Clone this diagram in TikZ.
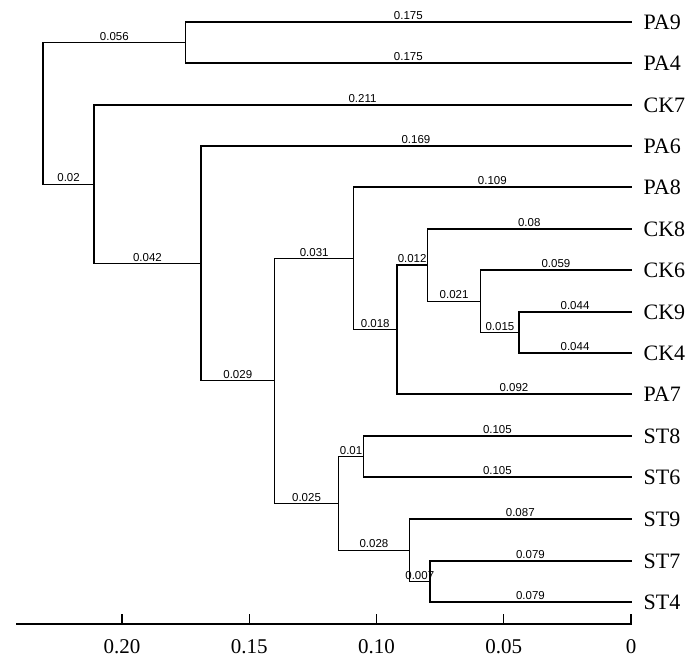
\documentclass[tikz,border=0pt]{standalone}
\usepackage{fontspec}
\setmainfont{Liberation Serif}
\newfontfamily\blenfont{Liberation Sans}
\usetikzlibrary{calc}

\begin{document}
\begin{tikzpicture}[x=1pt, y=-1pt, line width=1.3pt, line cap=rect,
    blen/.style={anchor=south, inner sep=1.5pt, font=\blenfont\fontsize{11.5}{12}\selectfont},
    leaf/.style={anchor=west, inner sep=0pt, font=\fontsize{22}{24}\selectfont},
    tick/.style={anchor=north, inner sep=0pt, font=\fontsize{21}{23}\selectfont}]
    % dendrogram, distance scale along the bottom
    \def\u{2545}
    \def\xo{631}
    \useasboundingbox (0,0) rectangle (700,664);

    % leaves
    \coordinate (PA9) at (\xo, 22);
    \coordinate (PA4) at (\xo, 63);
    \coordinate (CK7) at (\xo, 105);
    \coordinate (PA6) at (\xo, 146);
    \coordinate (PA8) at (\xo, 187);
    \coordinate (CK8) at (\xo, 229);
    \coordinate (CK6) at (\xo, 270);
    \coordinate (CK9) at (\xo, 312);
    \coordinate (CK4) at (\xo, 353);
    \coordinate (PA7) at (\xo, 394);
    \coordinate (ST8) at (\xo, 436);
    \coordinate (ST6) at (\xo, 477);
    \coordinate (ST9) at (\xo, 519);
    \coordinate (ST7) at (\xo, 561);
    \coordinate (ST4) at (\xo, 602);

    % inner nodes
    \coordinate (PAa) at ({\xo-0.175*\u}, 42.5);
    \coordinate (CKj) at ({\xo-0.044*\u}, 332.5);
    \coordinate (CKi) at ({\xo-0.059*\u}, 301.25);
    \coordinate (CKh) at ({\xo-0.080*\u}, 265.1);
    \coordinate (Mg)  at ({\xo-0.092*\u}, 329.6);
    \coordinate (Me)  at ({\xo-0.109*\u}, 258.3);
    \coordinate (STk) at ({\xo-0.105*\u}, 456.5);
    \coordinate (STm) at ({\xo-0.079*\u}, 581.5);
    \coordinate (STl) at ({\xo-0.087*\u}, 550.25);
    \coordinate (STf) at ({\xo-0.115*\u}, 503.4);
    \coordinate (Md)  at ({\xo-0.140*\u}, 380.8);
    \coordinate (Mc)  at ({\xo-0.169*\u}, 263.4);
    \coordinate (Mb)  at ({\xo-0.211*\u}, 184.2);
    \coordinate (R)   at ({\xo-0.231*\u}, 113.4);

    % branches
    \draw (R) |- (PAa) node[blen, pos=0.75] {0.056};
    \draw (R) |- (Mb) node[blen, pos=0.75] {0.02};
    \draw (PAa) |- (PA9) node[blen, pos=0.75] {0.175};
    \draw (PAa) |- (PA4) node[blen, pos=0.75] {0.175};
    \draw (Mb) |- (CK7) node[blen, pos=0.75] {0.211};
    \draw (Mb) |- (Mc) node[blen, pos=0.75] {0.042};
    \draw (Mc) |- (PA6) node[blen, pos=0.75] {0.169};
    \draw (Mc) |- (Md) node[blen, pos=0.75] {0.029};
    \draw (Md) |- (Me) node[blen, pos=0.75] {0.031};
    \draw (Md) |- (STf) node[blen, pos=0.75] {0.025};
    \draw (Me) |- (PA8) node[blen, pos=0.75] {0.109};
    \draw (Me) |- (Mg) node[blen, pos=0.75] {0.018};
    \draw (Mg) |- (CKh) node[blen, pos=0.75] {0.012};
    \draw (Mg) |- (PA7) node[blen, pos=0.75] {0.092};
    \draw (CKh) |- (CK8) node[blen, pos=0.75] {0.08};
    \draw (CKh) |- (CKi) node[blen, pos=0.75] {0.021};
    \draw (CKi) |- (CK6) node[blen, pos=0.75] {0.059};
    \draw (CKi) |- (CKj) node[blen, pos=0.75] {0.015};
    \draw (CKj) |- (CK9) node[blen, pos=0.75] {0.044};
    \draw (CKj) |- (CK4) node[blen, pos=0.75] {0.044};
    \draw (STf) |- (STk) node[blen, pos=0.75] {0.01};
    \draw (STf) |- (STl) node[blen, pos=0.75] {0.028};
    \draw (STk) |- (ST8) node[blen, pos=0.75] {0.105};
    \draw (STk) |- (ST6) node[blen, pos=0.75] {0.105};
    \draw (STl) |- (ST9) node[blen, pos=0.75] {0.087};
    \draw (STl) |- (STm) node[blen, pos=0.75] {0.007};
    \draw (STm) |- (ST7) node[blen, pos=0.75] {0.079};
    \draw (STm) |- (ST4) node[blen, pos=0.75] {0.079};

    % leaf names
    \foreach \n in {PA9,PA4,CK7,PA6,PA8,CK8,CK6,CK9,CK4,PA7,ST8,ST6,ST9,ST7,ST4}
        \node[leaf] (t\n) at ($(\n)+(12,0)$) {\n};

    % scale
    \coordinate (axL) at (17, 624);
    \coordinate (axR) at (\xo, 624);
    \draw (axL) -- (axR);
    \foreach \v/\t in {0/0, 0.05/0.05, 0.10/0.10, 0.15/0.15, 0.20/0.20} {
        \draw ({\xo-\v*\u}, 624) -- ++(0,-9);
        \node[tick] (s\t) at ({\xo-\v*\u}, 639) {\t};
    }
\end{tikzpicture}
\end{document}
